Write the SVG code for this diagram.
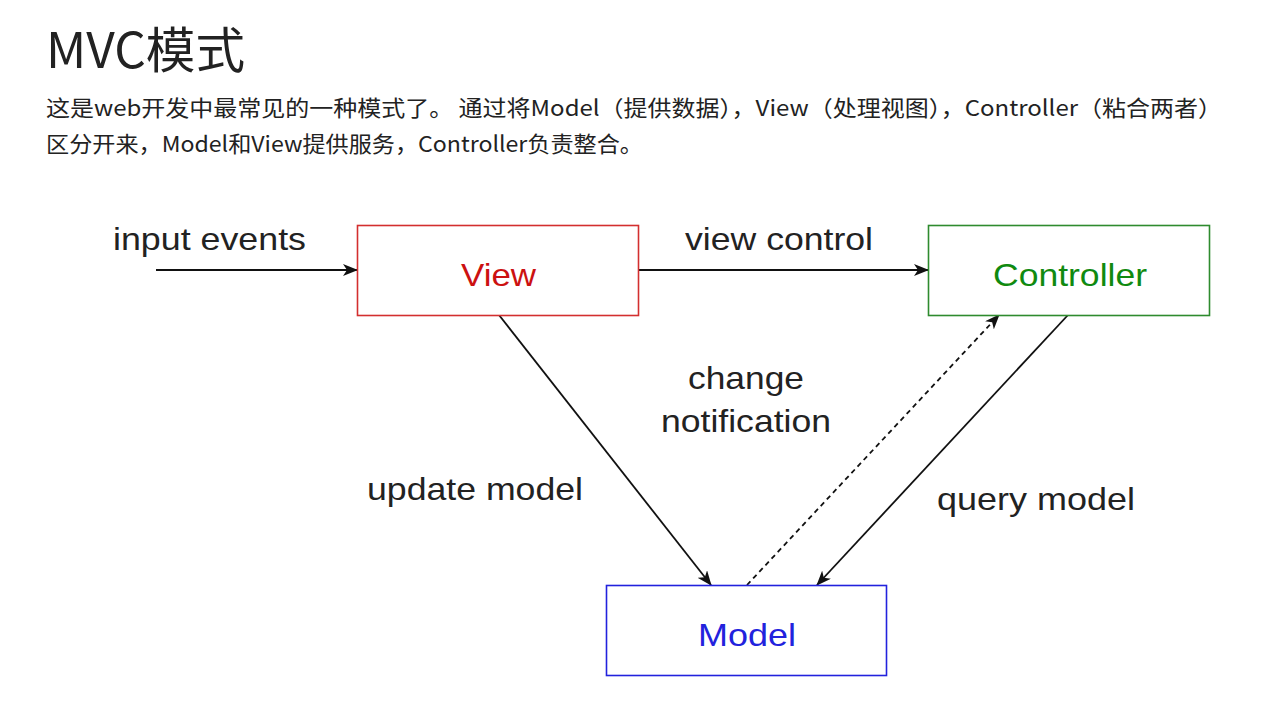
<svg xmlns="http://www.w3.org/2000/svg" width="1279" height="710" viewBox="0 0 1279 710">
<defs>
<style>
.title{font-family:"Noto Sans CJK SC","Noto Sans",sans-serif;font-size:49px;font-weight:400;fill:#222}
.para{font-family:"Noto Sans CJK SC","Noto Sans",sans-serif;font-size:22px;fill:#222}
.lbl{font-family:"Liberation Sans",Arial,sans-serif;font-size:32px;fill:#222}
.ntxt{font-family:"Liberation Sans",Arial,sans-serif;font-size:32px}
.edge{stroke:#111;stroke-width:1.8;fill:none}
</style>
<marker id="arr" viewBox="0 0 15 12" refX="14" refY="6" markerWidth="15" markerHeight="12" markerUnits="userSpaceOnUse" orient="auto">
<path d="M0,0 L15,6 L0,12 L4,6 z" fill="#111"/>
</marker>
</defs>
<rect width="1279" height="710" fill="#fff"/>
<text class="title" x="46" y="68" textLength="199" lengthAdjust="spacingAndGlyphs">MVC模式</text>
<text class="para" x="46" y="116" textLength="1176" lengthAdjust="spacingAndGlyphs">这是web开发中最常见的一种模式了。 通过将Model（提供数据），View（处理视图），Controller（粘合两者）</text>
<text class="para" x="46" y="152" textLength="597" lengthAdjust="spacingAndGlyphs">区分开来，Model和View提供服务，Controller负责整合。</text>

<g id="connectors">
<line class="edge" x1="156" y1="270" x2="357" y2="270" marker-end="url(#arr)"/>
<line class="edge" x1="638" y1="270" x2="928" y2="270" marker-end="url(#arr)"/>
<line class="edge" x1="499" y1="315" x2="711" y2="585" marker-end="url(#arr)"/>
<line class="edge" x1="1068" y1="315" x2="817" y2="585" marker-end="url(#arr)"/>
<line class="edge" x1="747" y1="585" x2="999" y2="315" stroke-dasharray="5,4" marker-end="url(#arr)"/>
<text class="lbl" x="113" y="250" textLength="193" lengthAdjust="spacingAndGlyphs">input events</text>
<text class="lbl" x="685" y="250" textLength="188" lengthAdjust="spacingAndGlyphs">view control</text>
<text class="lbl" x="367" y="500" textLength="216" lengthAdjust="spacingAndGlyphs">update model</text>
<text class="lbl" x="937" y="510" textLength="198" lengthAdjust="spacingAndGlyphs">query model</text>
<text class="lbl" x="688" y="389" textLength="116" lengthAdjust="spacingAndGlyphs">change</text>
<text class="lbl" x="661" y="432" textLength="170" lengthAdjust="spacingAndGlyphs">notification</text>
</g>

<g id="view">
<rect x="357.5" y="225.5" width="281" height="90" fill="#fff" stroke="#d32f2f" stroke-width="1.6"/>
<text class="ntxt" x="461" y="286" textLength="75" lengthAdjust="spacingAndGlyphs" fill="#cc1111">View</text>
</g>
<g id="controller">
<rect x="928.5" y="225.5" width="281" height="90" fill="#fff" stroke="#2e8b2e" stroke-width="1.6"/>
<text class="ntxt" x="993" y="286" textLength="154" lengthAdjust="spacingAndGlyphs" fill="#108a10">Controller</text>
</g>
<g id="model">
<rect x="606.5" y="585.5" width="280" height="90" fill="#fff" stroke="#2222dd" stroke-width="1.6"/>
<text class="ntxt" x="698" y="646" textLength="98" lengthAdjust="spacingAndGlyphs" fill="#2222dd">Model</text>
</g>
</svg>
